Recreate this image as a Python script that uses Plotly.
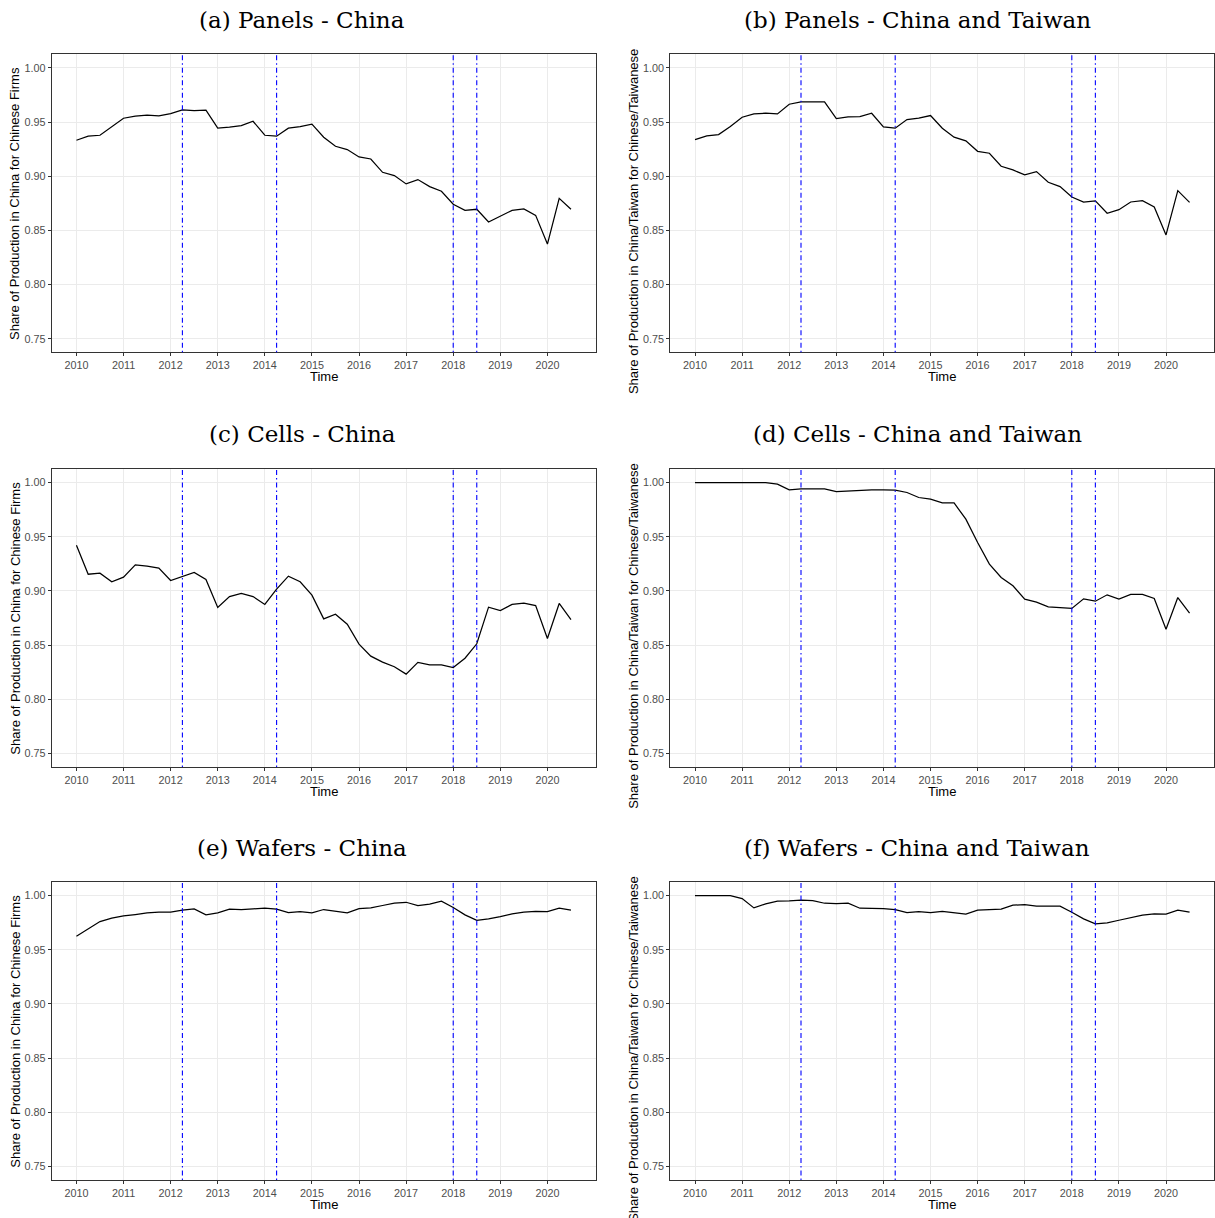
import plotly.graph_objects as go

# Quarterly observations, 2010Q1 .. 2020Q3
years = list(range(2010, 2021))
quarter_offsets = [0.0, 0.25, 0.5, 0.75]
time = [y + q for y in years for q in quarter_offsets][:43]

# Share of production, by segment and ownership definition
panels_china = [0.9332, 0.9369, 0.9378, 0.9455, 0.9535, 0.9554, 0.9563, 0.9557,
                0.9578, 0.9612, 0.9606, 0.9609, 0.9443, 0.9452, 0.9467, 0.9507,
                0.9378, 0.9369, 0.9443, 0.9458, 0.9480, 0.9360, 0.9276, 0.9246,
                0.9178, 0.9159, 0.9036, 0.9006, 0.8929, 0.8969, 0.8904, 0.8861,
                0.8741, 0.8685, 0.8695, 0.8578, 0.8630, 0.8685, 0.8698, 0.8639,
                0.8374, 0.8796, 0.8695]
panels_china_taiwan = [0.9338, 0.9372, 0.9384, 0.9458, 0.9544, 0.9575, 0.9581, 0.9575,
                       0.9664, 0.9686, 0.9686, 0.9686, 0.9532, 0.9547, 0.9550, 0.9581,
                       0.9455, 0.9443, 0.9523, 0.9535, 0.9560, 0.9443, 0.9360, 0.9326,
                       0.9230, 0.9212, 0.9092, 0.9058, 0.9012, 0.9042, 0.8944, 0.8904,
                       0.8808, 0.8762, 0.8772, 0.8658, 0.8691, 0.8762, 0.8775, 0.8716,
                       0.8458, 0.8867, 0.8759]
cells_china = [0.9422, 0.9154, 0.9164, 0.9084, 0.9127, 0.9240, 0.9228, 0.9210,
               0.9096, 0.9130, 0.9170, 0.9105, 0.8847, 0.8948, 0.8976, 0.8948,
               0.8875, 0.9016, 0.9136, 0.9084, 0.8961, 0.8742, 0.8785, 0.8693,
               0.8509, 0.8398, 0.8343, 0.8300, 0.8232, 0.8340, 0.8318, 0.8318,
               0.8293, 0.8379, 0.8512, 0.8850, 0.8819, 0.8875, 0.8887, 0.8865,
               0.8561, 0.8884, 0.8736]
cells_china_taiwan = [1.0000, 1.0000, 1.0000, 1.0000, 1.0000, 1.0000, 1.0000, 0.9985,
                      0.9932, 0.9942, 0.9942, 0.9942, 0.9917, 0.9923, 0.9929, 0.9932,
                      0.9932, 0.9929, 0.9908, 0.9862, 0.9846, 0.9812, 0.9812, 0.9662,
                      0.9446, 0.9247, 0.9124, 0.9047, 0.8924, 0.8896, 0.8853, 0.8844,
                      0.8838, 0.8927, 0.8905, 0.8964, 0.8924, 0.8967, 0.8967, 0.8930,
                      0.8647, 0.8939, 0.8795]
wafers_china = [0.9625, 0.9692, 0.9760, 0.9791, 0.9812, 0.9825, 0.9840, 0.9846,
                0.9846, 0.9865, 0.9877, 0.9822, 0.9840, 0.9874, 0.9871, 0.9877,
                0.9883, 0.9874, 0.9843, 0.9852, 0.9840, 0.9871, 0.9855, 0.9840,
                0.9880, 0.9886, 0.9908, 0.9929, 0.9938, 0.9908, 0.9920, 0.9948,
                0.9889, 0.9822, 0.9772, 0.9785, 0.9806, 0.9831, 0.9846, 0.9855,
                0.9852, 0.9883, 0.9865]
wafers_china_taiwan = [1.0000, 1.0000, 1.0000, 1.0000, 0.9972, 0.9886, 0.9923, 0.9948,
                       0.9951, 0.9957, 0.9954, 0.9929, 0.9926, 0.9929, 0.9883, 0.9883,
                       0.9880, 0.9871, 0.9843, 0.9852, 0.9843, 0.9855, 0.9843, 0.9828,
                       0.9865, 0.9871, 0.9874, 0.9911, 0.9917, 0.9902, 0.9899, 0.9902,
                       0.9846, 0.9785, 0.9739, 0.9748, 0.9772, 0.9797, 0.9819, 0.9831,
                       0.9828, 0.9865, 0.9846]

# Policy event dates marked with vertical lines
events = [2012.25, 2014.25, 2018.0, 2018.5]

titles = ["(a) Panels - China", "(b) Panels - China and Taiwan",
          "(c) Cells - China", "(d) Cells - China and Taiwan",
          "(e) Wafers - China", "(f) Wafers - China and Taiwan"]
series = [panels_china, panels_china_taiwan, cells_china, cells_china_taiwan,
          wafers_china, wafers_china_taiwan]
ylab_china = "Share of Production in China for Chinese Firms"
ylab_china_taiwan = "Share of Production in China/Taiwan for Chinese/Taiwanese"

x_ticks = list(range(2010, 2021))
x_ticklabels = [str(v) for v in x_ticks]
y_ticks = [0.75, 0.80, 0.85, 0.90, 0.95, 1.00]
y_ticklabels = ["0.75", "0.80", "0.85", "0.90", "0.95", "1.00"]

# ---- page geometry (pixels) ----
W, H = 1215, 1218
col_left = [51.7, 670.3]
box_w = 544.0
row_top = [54.3, 469.0, 882.0]
box_h = 298.0
title_cx = [302.0, 917.0]
title_cy0 = 20.0
row_step = 414.0

SANS = "Liberation Sans, Arial, Helvetica, sans-serif"
SERIF = "DejaVu Serif, serif"


def fx(p):
    return p / W


def fy(p):
    return 1 - p / H


fig = go.Figure()
layout = dict(
    width=W, height=H,
    margin=dict(l=0, r=0, t=0, b=0),
    paper_bgcolor="white", plot_bgcolor="white",
    showlegend=False,
)
annotations = []
shapes = []

for i, (title, vals) in enumerate(zip(titles, series)):
    r, c = divmod(i, 2)
    n = i + 1
    xa = "x" if n == 1 else f"x{n}"
    ya = "y" if n == 1 else f"y{n}"
    x0, x1 = col_left[c], col_left[c] + box_w
    y0, y1 = row_top[r], row_top[r] + box_h

    axis_common = dict(
        showline=True, mirror=True, linecolor="#333333", linewidth=1,
        ticks="outside", ticklen=3, tickwidth=1, tickcolor="#333333",
        showgrid=True, gridcolor="#EBEBEB", gridwidth=1, zeroline=False,
        tickfont=dict(family=SANS, size=10.8, color="#4D4D4D"),
    )
    layout["xaxis" if n == 1 else f"xaxis{n}"] = dict(
        axis_common, domain=[fx(x0), fx(x1)], range=[2009.475, 2021.025],
        tickvals=x_ticks, ticktext=x_ticklabels, anchor=ya,
    )
    layout["yaxis" if n == 1 else f"yaxis{n}"] = dict(
        axis_common, domain=[fy(y1), fy(y0)], range=[0.7375, 1.0125],
        tickvals=y_ticks, ticktext=y_ticklabels, anchor=xa,
    )

    fig.add_trace(go.Scatter(
        x=time, y=vals, mode="lines", xaxis=xa, yaxis=ya,
        line=dict(color="black", width=1.25), hoverinfo="skip",
    ))

    for ev in events:
        shapes.append(dict(
            type="line", xref=xa, yref=f"{ya} domain",
            x0=ev, x1=ev, y0=0, y1=1,
            line=dict(color="#0000FF", width=1.1, dash="1.5px,3px,5px,3px"),
            layer="above",
        ))

    # panel caption
    annotations.append(dict(
        text=title, xref="paper", yref="paper",
        x=fx(title_cx[c]), y=fy(title_cy0 + row_step * r),
        xanchor="center", yanchor="middle", showarrow=False,
        font=dict(family=SERIF, size=23, color="black"),
    ))
    # x-axis title
    annotations.append(dict(
        text="Time", xref="paper", yref="paper",
        x=fx((x0 + x1) / 2), y=fy(y1 + 24.5),
        xanchor="center", yanchor="middle", showarrow=False,
        font=dict(family=SANS, size=13, color="black"),
    ))
    # y-axis title
    if c == 0:
        annotations.append(dict(
            text=ylab_china, xref="paper", yref="paper",
            x=fx(14.7), y=fy((y0 + y1) / 2), textangle=-90,
            xanchor="center", yanchor="middle", showarrow=False,
            font=dict(family=SANS, size=13, color="black"),
        ))
    else:
        # long label: anchored at its top end, runs down past the panel
        annotations.append(dict(
            text=ylab_china_taiwan, xref="paper", yref="paper",
            x=fx(633.3), y=fy(y0 - 7), textangle=-90,
            xanchor="center", yanchor="top", showarrow=False,
            font=dict(family=SANS, size=13, color="black"),
        ))

layout["annotations"] = annotations
layout["shapes"] = shapes
fig.update_layout(**layout)

fig.write_html("out.html")
